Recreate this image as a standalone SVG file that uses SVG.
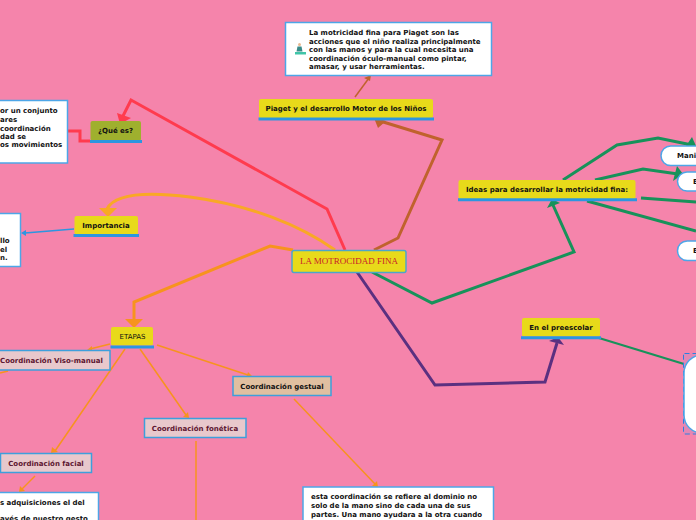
<svg xmlns="http://www.w3.org/2000/svg" width="696" height="520" viewBox="0 0 696 520">
<style>
text{font-family:"DejaVu Sans",sans-serif;font-size:7px;font-weight:bold;fill:#111}
.c{text-anchor:middle}
.y{fill:#e8da1a}
.u{stroke:#2c96e0;stroke-width:3;fill:none}
.w{fill:#fff;stroke:#4da6e8;stroke-width:1.5}
.p{fill:#e8c8cc;stroke:#3d9fdc;stroke-width:1.5}
.m{fill:#5c1530}
.l{fill:none;stroke-linejoin:miter}
.r{stroke:#ff3b4e;stroke-width:3}
.o{stroke:#f9a825;stroke-width:3}
.d{stroke:#f7931e;stroke-width:3}
.b{stroke:#c0622d;stroke-width:3}
.g{stroke:#17925a;stroke-width:3}
.v{stroke:#5b3080;stroke-width:3}
.t{stroke:#f7931e;stroke-width:1.5}
</style>
<rect width="696" height="520" fill="#f584ab"/>
<g id="connectors">
<path class="l r" d="M345 250L327 209L131 100L123 116"/><path fill="#ff3b4e" d="M117 113L131 118L120 124Z"/>
<path class="l r" d="M90 141H80V131H68"/>
<path class="l o" d="M335 250C300 225 250 205 190 197C150 192 115 193 107 209"/><path fill="#f9a825" d="M99 208H117L108 217Z"/>
<path class="l d" d="M293 250L270 246L134 302V320"/><path fill="#f7931e" d="M125 319H143L134 328Z"/>
<path class="l b" d="M374 250L398 238L442 140L380 121"/><path fill="#c0622d" d="M374 118L386 121L378 128Z"/>
<path class="l" stroke="#c0622d" stroke-width="1.500" d="M355 97L369 78"/><path fill="#c0622d" d="M371 75L370 81L364 78Z"/>
<path class="l g" d="M372 272L432 303L574 252L553 205"/><path fill="#17925a" d="M547 208L560 203L552 199Z"/>
<path class="l g" d="M563 180L617 145L658 138L692 145"/><path fill="#17925a" d="M692 137L686 146H696Z"/>
<path class="l g" d="M595 180L643 169L678 174"/><path fill="#17925a" d="M677 166L683 174L673 181Z"/>
<path class="l g" d="M641 198L696 202"/>
<path class="l g" d="M587 201L696 231"/>
<path class="l v" d="M357 272L435 385L545 382L557 343"/><path fill="#5b3080" d="M549 341L558 337L564 345Z"/>
<path class="l" stroke="#17925a" stroke-width="2.200" d="M599 338L684 364"/>
<path class="l t" d="M110 344L90 349"/><path fill="#f7931e" d="M87 350L92 346L92 350Z"/>
<path class="l t" d="M125 349L55 451"/><path fill="#f7931e" d="M51 453L52 447L58 452Z"/>
<path class="l t" d="M140 349L186 415"/><path fill="#f7931e" d="M189 418L183 417L188 412Z"/>
<path class="l t" d="M157 345L248 375"/><path fill="#f7931e" d="M252 376L246 378L248 372Z"/>
<path class="l t" d="M8 371L0 373"/>
<path class="l t" d="M35 476L22 489"/><path fill="#f7931e" d="M19 492L20 486L25 491Z"/>
<path class="l t" d="M196 441V520"/>
<path class="l t" d="M294 399L375 484"/><path fill="#f7931e" d="M378 487L372 486L377 481Z"/>
<path class="l" stroke="#2c96e0" stroke-width="1.500" d="M74 229L25 233"/><path fill="#2c96e0" d="M21 233L26 230L26 236Z"/>
</g>
<g id="n-central"><rect x="292" y="250.500" width="114" height="22" rx="2" fill="#e8da1a" stroke="#4da6c8" stroke-width="1.500"/><text class="c" x="349" y="264" style="font-family:'Liberation Serif',serif;font-size:9px;font-weight:normal;fill:#c8202a">LA MOTROCIDAD FINA</text></g>
<g id="n-que"><rect x="90.500" y="121" width="50.500" height="20" rx="2" fill="#9fb02e"/><path class="u" d="M90 141.500H142"/><text class="c" x="115.500" y="133">¿Qué es?</text></g>
<g id="n-que-text"><rect class="w" x="-10" y="100.500" width="77.500" height="62.500"/><text x="0" y="113">or un conjunto</text><text x="0" y="122">ares</text><text x="0" y="130.500">coordinación</text><text x="0" y="139">dad se</text><text x="0" y="147">os movimientos</text></g>
<g id="n-imp"><rect class="y" x="74.500" y="216" width="63.500" height="18.500" rx="2"/><path class="u" d="M73.500 235.500H139"/><text class="c" x="106" y="228">Importancia</text></g>
<g id="n-imp-text"><rect class="w" x="-10" y="213.500" width="30.500" height="53"/><text x="0" y="243">llo</text><text x="0" y="251.500">el</text><text x="0" y="260">n.</text></g>
<g id="n-piaget"><rect class="y" x="259" y="99" width="174" height="19" rx="2"/><path class="u" d="M258.500 119H434"/><text class="c" x="346" y="111">Piaget y el desarrollo Motor de los Niños</text></g>
<g id="n-piaget-text"><rect class="w" x="285.500" y="22.500" width="206" height="53"/><path fill="#3fc4a8" d="M295 52h11v2.500h-11z"/><circle cx="299.500" cy="44.500" r="1.500" fill="#e8b890"/><path fill="#3a8a88" d="M297.500 46.500h4l1 5h-6z"/><text x="309" y="35">La motricidad fina para Piaget son las</text><text x="309" y="43.500">acciones que el niño realiza principalmente</text><text x="309" y="52">con las manos y para la cual necesita una</text><text x="309" y="60.500">coordinación óculo-manual como pintar,</text><text x="309" y="69">amasar, y usar herramientas.</text></g>
<g id="n-ideas"><rect class="y" x="458.500" y="180" width="177" height="19" rx="2"/><path class="u" d="M458 199.800H637"/><text class="c" x="547" y="192">Ideas para desarrollar la motricidad fina:</text></g>
<g id="n-mani"><rect class="w" x="661" y="146" width="60" height="19.500" rx="9.700"/><text x="677" y="158">Mani</text></g>
<g id="n-e1"><rect class="w" x="677.500" y="172" width="50" height="19" rx="9.500"/><text x="693" y="184">E</text></g>
<g id="n-e2"><rect class="w" x="677.500" y="241" width="50" height="19.500" rx="9.700"/><text x="693" y="253">E</text></g>
<g id="n-pre"><rect class="y" x="522" y="318" width="78" height="18.500" rx="2"/><path class="u" d="M521 337.800H601"/><text class="c" x="561" y="330">En el preescolar</text></g>
<g id="n-big"><rect x="683.500" y="353.500" width="40" height="80.500" rx="1" fill="#cf8ac0" fill-opacity="0.5" stroke="#2c7fe0" stroke-width="1" stroke-dasharray="5 3"/><rect class="w" x="684" y="355" width="50" height="78" rx="18"/></g>
<g id="n-etapas"><rect class="y" x="111" y="327" width="42" height="18.500" rx="2"/><path class="u" d="M110.500 347H154"/><text class="c" x="132.500" y="339" style="font-weight:normal">ETAPAS</text></g>
<g id="n-viso"><rect class="p" x="-10" y="350.500" width="120" height="19.500"/><text class="m" x="0" y="363">Coordinación Viso-manual</text></g>
<g id="n-facial"><rect class="p" x="0.500" y="453.500" width="91" height="19"/><text class="c m" x="46" y="466">Coordinación facial</text></g>
<g id="n-facial-text"><rect class="w" x="-10" y="492.500" width="108.500" height="40"/><text x="0" y="505">s adquisiciones el del</text><text x="0" y="520.500">avés de nuestro gesto</text></g>
<g id="n-fonetica"><rect class="p" x="144.500" y="418.500" width="101.500" height="19"/><text class="c m" x="195" y="431">Coordinación fonética</text></g>
<g id="n-gestual"><rect x="233" y="376.500" width="98" height="19" fill="#e0bfa0" stroke="#3d9fdc" stroke-width="1.500"/><text class="c" x="282" y="389">Coordinación gestual</text></g>
<g id="n-gestual-text"><rect class="w" x="303" y="487" width="190.500" height="50"/><text x="311" y="499">esta coordinación se refiere al dominio no</text><text x="311" y="508">solo de la mano sino de cada una de sus</text><text x="311" y="516.500">partes. Una mano ayudara a la otra cuando</text></g>
</svg>
